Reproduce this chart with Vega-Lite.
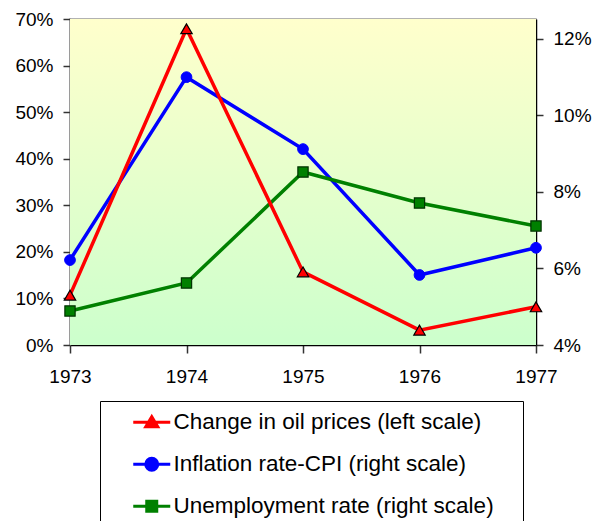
{
  "$schema": "https://vega.github.io/schema/vega-lite/v6.json",
  "width": 466,
  "height": 326,
  "autosize": {"type": "none"},
  "padding": {"left": 70, "top": 19, "right": 59, "bottom": 176},
  "background": "white",
  "config": {
    "font": "Liberation Sans",
    "view": {"stroke": "#999999", "strokeWidth": 1.5},
    "axis": {"labelFont": "Liberation Sans", "labelFontSize": 19, "labelColor": "black", "grid": false, "title": null, "labelFlush": false}
  },
  "data": {
    "values": [
      {"year": 1973, "series": "Change in oil prices (left scale)", "value": 10.7},
      {"year": 1974, "series": "Change in oil prices (left scale)", "value": 67.9},
      {"year": 1975, "series": "Change in oil prices (left scale)", "value": 15.7},
      {"year": 1976, "series": "Change in oil prices (left scale)", "value": 3.2},
      {"year": 1977, "series": "Change in oil prices (left scale)", "value": 8.2},
      {"year": 1973, "series": "Inflation rate-CPI (right scale)", "value": 6.22},
      {"year": 1974, "series": "Inflation rate-CPI (right scale)", "value": 11.0},
      {"year": 1975, "series": "Inflation rate-CPI (right scale)", "value": 9.12},
      {"year": 1976, "series": "Inflation rate-CPI (right scale)", "value": 5.83},
      {"year": 1977, "series": "Inflation rate-CPI (right scale)", "value": 6.54},
      {"year": 1973, "series": "Unemployment rate (right scale)", "value": 4.89},
      {"year": 1974, "series": "Unemployment rate (right scale)", "value": 5.62},
      {"year": 1975, "series": "Unemployment rate (right scale)", "value": 8.52},
      {"year": 1976, "series": "Unemployment rate (right scale)", "value": 7.71},
      {"year": 1977, "series": "Unemployment rate (right scale)", "value": 7.11}
    ]
  },
  "layer": [
    {
      "data": {"values": [{}]},
      "mark": {"type": "rect", "fill": {"gradient": "linear", "x1": 0, "y1": 0, "x2": 0, "y2": 1, "stops": [{"offset": 0, "color": "#FFFFCC"}, {"offset": 1, "color": "#CCFFCC"}]}, "opacity": 1},
      "encoding": {
        "x": {"datum": 1973, "type": "quantitative", "scale": {"domain": [1973, 1977], "nice": false, "zero": false},
          "axis": {"values": [1973, 1974, 1975, 1976, 1977], "format": "d", "tickSize": 8, "labelPadding": 14, "domainColor": "black", "tickColor": "#333333", "domainWidth": 1.5, "tickWidth": 1.5}},
        "x2": {"datum": 1977},
        "y": {"datum": 0, "type": "quantitative", "scale": {"domain": [0, 1], "nice": false}, "axis": null},
        "y2": {"datum": 1}
      }
    },
    {
      "transform": [{"filter": "datum.series !== 'Change in oil prices (left scale)'"}],
      "encoding": {
        "x": {"field": "year", "type": "quantitative"},
        "y": {"field": "value", "type": "quantitative", "scale": {"domain": [4, 12.52], "nice": false, "zero": false},
          "axis": {"orient": "right", "values": [4, 6, 8, 10, 12], "labelExpr": "datum.value + '%'", "tickSize": 7, "labelPadding": 10, "domainColor": "black", "tickColor": "#333333", "domainWidth": 1.5, "tickWidth": 1.5}}
      },
      "layer": [
        {
          "mark": {"type": "line", "strokeWidth": 3.5},
          "encoding": {
            "color": {"field": "series", "type": "nominal",
              "scale": {"domain": ["Change in oil prices (left scale)", "Inflation rate-CPI (right scale)", "Unemployment rate (right scale)"], "range": ["#FF0000", "#0000FF", "#008000"]},
              "legend": {
                "orient": "none", "legendX": 30, "legendY": 382, "title": null, "direction": "vertical",
                "padding": 10, "strokeColor": "black", "fillColor": "white",
                "labelFont": "Liberation Sans", "labelFontSize": 22.5, "labelColor": "black", "labelLimit": 700,
                "labelOffset": 41, "rowPadding": 18, "symbolSize": 100, "symbolStrokeWidth": 3,
                "labelExpr": "datum.label + '\u00a0\u00a0\u00a0\u200b'",
                "encode": {"symbols": {"update": {
                  "fill": {"scale": "color", "field": "value"},
                  "stroke": {"scale": "color", "field": "value"},
                  "strokeWidth": {"value": 3},
                  "opacity": {"value": 1},
                  "fillOpacity": {"value": 1},
                  "shape": {"signal": "datum.value === 'Change in oil prices (left scale)' ? 'M2.4,0H9.8M4.9,0.9L6.1,-1.1L7.3,0.9Z' : datum.value === 'Inflation rate-CPI (right scale)' ? 'M2.4,0H9.8M4.9,0A1.2,1.2 0 1,0 7.3,0A1.2,1.2 0 1,0 4.9,0Z' : 'M2.4,0H9.8M5.1,-1H7.1V1H5.1Z'"}
                }}}
              }}
          }
        },
        {
          "transform": [{"filter": "datum.series === 'Inflation rate-CPI (right scale)'"}],
          "mark": {"type": "point", "shape": "circle", "filled": true, "fill": "#0000FF", "stroke": "#0000FF", "opacity": 1, "strokeWidth": 1, "size": 115}
        },
        {
          "transform": [{"filter": "datum.series === 'Unemployment rate (right scale)'"}],
          "mark": {"type": "point", "shape": "square", "filled": true, "fill": "#008000", "stroke": "#003300", "opacity": 1, "strokeWidth": 1.2, "size": 105}
        }
      ]
    },
    {
      "transform": [{"filter": "datum.series === 'Change in oil prices (left scale)'"}],
      "encoding": {
        "x": {"field": "year", "type": "quantitative"},
        "y": {"field": "value", "type": "quantitative", "scale": {"domain": [0, 70], "nice": false},
          "axis": {"orient": "left", "values": [0, 10, 20, 30, 40, 50, 60, 70], "labelExpr": "datum.value + '%'", "tickSize": 7, "labelPadding": 10, "domainColor": "#555555", "tickColor": "#333333", "domainWidth": 1.5, "tickWidth": 1.5}}
      },
      "layer": [
        {
          "mark": {"type": "line", "strokeWidth": 3.5},
          "encoding": {"color": {"field": "series", "type": "nominal"}}
        },
        {
          "mark": {"type": "point", "shape": "triangle-up", "filled": true, "fill": "#FF0000", "stroke": "#000000", "opacity": 1, "strokeWidth": 1.2, "size": 130}
        }
      ]
    }
  ],
  "resolve": {"scale": {"y": "independent"}}
}
